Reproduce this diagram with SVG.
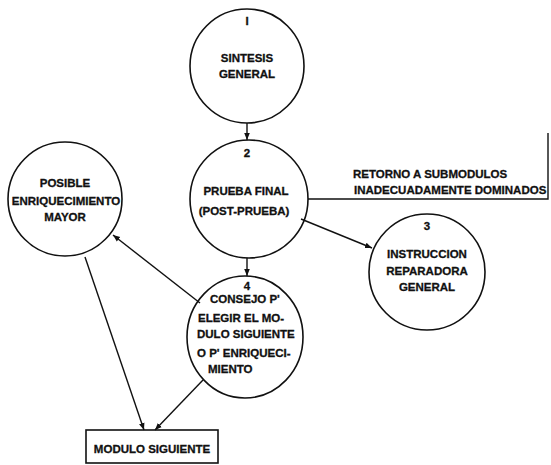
<svg xmlns="http://www.w3.org/2000/svg" width="551" height="465" viewBox="0 0 551 465">
<style>
.n{fill:none;stroke:#111;stroke-width:1.6}
.t{font-family:"Liberation Sans",Arial,sans-serif;font-weight:bold;font-size:11.5px;fill:#111;stroke:#111;stroke-width:0.3;text-anchor:middle}
.s{text-anchor:start}
.c{fill:none;stroke:#111;stroke-width:1.4}
</style>
<defs>
<marker id="ah" viewBox="0 0 10 10" refX="10" refY="5" markerWidth="7" markerHeight="7" markerUnits="userSpaceOnUse" orient="auto">
<path d="M0,1 L10,5 L0,9 Z" fill="#111"/>
</marker>
</defs>
<rect width="551" height="465" fill="#fff"/>
<g id="connectors">
<line class="c" x1="247" y1="123" x2="247" y2="140" marker-end="url(#ah)"/>
<line class="c" x1="247" y1="258" x2="247" y2="276" marker-end="url(#ah)"/>
<line class="c" x1="301" y1="219" x2="372" y2="248" marker-end="url(#ah)"/>
<polyline class="c" points="308,199 548,199 548,133"/>
<line class="c" x1="200" y1="303" x2="113" y2="235" marker-end="url(#ah)"/>
<line class="c" x1="85" y1="257" x2="144" y2="430" marker-end="url(#ah)"/>
<line class="c" x1="203" y1="380" x2="155" y2="430" marker-end="url(#ah)"/>
</g>
<g id="n1">
<circle class="n" cx="247" cy="66" r="57"/>
<text class="t" x="247" y="25">I</text>
<text class="t" x="247" y="62">SINTESIS</text>
<text class="t" x="247" y="78">GENERAL</text>
</g>
<g id="n2">
<circle class="n" cx="249" cy="199" r="59"/>
<text class="t" x="247" y="157">2</text>
<text class="t" x="246" y="195">PRUEBA FINAL</text>
<text class="t" x="244" y="215">(POST-PRUEBA)</text>
</g>
<g id="label-retorno">
<text class="t s" x="353" y="178">RETORNO A SUBMODULOS</text>
<text class="t s" x="354" y="194">INADECUADAMENTE DOMINADOS</text>
</g>
<g id="n3">
<circle class="n" cx="427" cy="272" r="58"/>
<text class="t" x="427" y="230">3</text>
<text class="t" x="427" y="258">INSTRUCCION</text>
<text class="t" x="427" y="275">REPARADORA</text>
<text class="t" x="427" y="291">GENERAL</text>
</g>
<g id="n4">
<ellipse class="n" cx="245" cy="337" rx="58" ry="61"/>
<text class="t" x="247" y="290">4</text>
<text class="t s" x="210" y="303">CONSEJO P'</text>
<text class="t s" x="198" y="322">ELEGIR EL MO-</text>
<text class="t s" x="197" y="338">DULO SIGUIENTE</text>
<text class="t s" x="197" y="357">O P' ENRIQUECI-</text>
<text class="t s" x="208" y="373">MIENTO</text>
</g>
<g id="n5">
<circle class="n" cx="65" cy="199" r="57"/>
<text class="t" x="65" y="187">POSIBLE</text>
<text class="t" x="66" y="205" font-size="11">ENRIQUECIMIENTO</text>
<text class="t" x="65" y="221">MAYOR</text>
</g>
<g id="n6">
<rect class="n" x="86" y="430" width="132" height="33"/>
<text class="t" x="152" y="453">MODULO SIGUIENTE</text>
</g>
</svg>
